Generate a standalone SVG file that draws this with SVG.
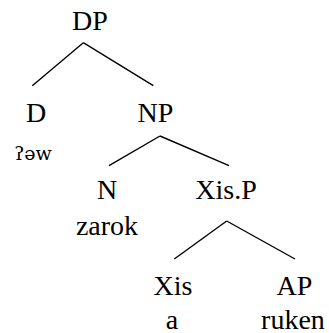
<svg xmlns="http://www.w3.org/2000/svg" width="329" height="333" viewBox="0 0 329 333">
<style>
.edge{stroke:#000;stroke-width:1.4;fill:none}
</style>
<rect width="329" height="333" fill="#fff"/>
<g id="connectors">
<line class="edge" x1="83.3" y1="42.7" x2="32.3" y2="85.7"/>
<line class="edge" x1="83.3" y1="42.7" x2="153.3" y2="85.7"/>
<line class="edge" x1="160" y1="136" x2="109" y2="165.7"/>
<line class="edge" x1="160" y1="136" x2="229" y2="165.7"/>
<line class="edge" x1="226.7" y1="221" x2="174.3" y2="259"/>
<line class="edge" x1="226.7" y1="221" x2="295" y2="259"/>
</g>
<g font-family="Liberation Serif" font-size="28" text-anchor="middle" fill="#000">
<g id="DP"><text x="90" y="30">DP</text></g>
<g id="D"><text x="36" y="122">D</text><text font-family="DejaVu Serif" font-size="19" x="33" y="159.5">ʔəw</text></g>
<g id="NP"><text x="155.5" y="122">NP</text></g>
<g id="N"><text x="107" y="199">N</text><text x="107" y="235">zarok</text></g>
<g id="XisP"><text x="226" y="199">Xis.P</text></g>
<g id="Xis"><text x="173" y="295">Xis</text><text x="172" y="329">a</text></g>
<g id="AP"><text x="294.5" y="295">AP</text><text x="293" y="329">ruken</text></g>
</g>
</svg>
